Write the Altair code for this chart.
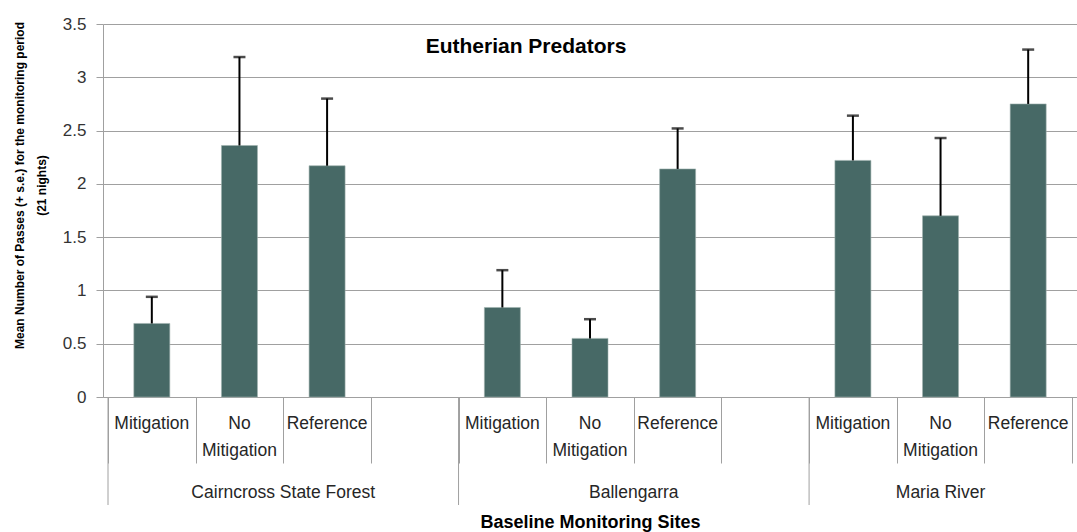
import altair as alt
import pandas as pd

# Sites and treatments along the category axis
sites = ["Cairncross State Forest", "Ballengarra", "Maria River"]
treatments = ["Mitigation", "No Mitigation", "Reference"]
treatment_labels = ["Mitigation", "No\nMitigation", "Reference"]

# Mean passes and standard errors, site by site in treatment order
means = [0.69, 2.36, 2.17, 0.84, 0.55, 2.14, 2.22, 1.70, 2.75]
std_errors = [0.25, 0.83, 0.63, 0.35, 0.18, 0.38, 0.42, 0.73, 0.51]

y_ticks = [0, 0.5, 1, 1.5, 2, 2.5, 3, 3.5]

# Each site takes four category slots (three treatments and one empty slot);
# the trailing empty slot of the last site is not shown.
SLOTS_PER_SITE = 4
n_slots = SLOTS_PER_SITE * len(sites) - 1

rows = []
for i, site in enumerate(sites):
    for j, (treat, lab) in enumerate(zip(treatments, treatment_labels)):
        k = i * len(treatments) + j
        rows.append({
            "site": site,
            "treatment": treat,
            "label": lab,
            "x": i * SLOTS_PER_SITE + j + 0.5,
            "mean": means[k],
            "upper": means[k] + std_errors[k],
        })
bars_df = pd.DataFrame(rows)

site_rows = []
for i, site in enumerate(sites):
    start = i * SLOTS_PER_SITE
    end = min(start + SLOTS_PER_SITE, n_slots)
    site_rows.append({"site": site, "x": start, "mid": (start + end) / 2})
sites_df = pd.DataFrame(site_rows)

FONT = "Liberation Sans, Arial, sans-serif"
GRAY = "#a0a0a0"
BAR = "#476966"
TEXT = "#262626"

W, H = 974, 373

x_scale = alt.Scale(domain=[0, n_slots], nice=False, zero=False)
x_axis = alt.Axis(
    values=list(range(n_slots + 1)),
    labels=False,
    grid=False,
    tickSize=66,
    tickColor=GRAY,
    domainColor=GRAY,
    title="Baseline Monitoring Sites",
    titleFont=FONT,
    titleFontSize=18,
    titleFontWeight="bold",
    titleColor="#000000",
    titleX=W / 2,
    titleY=125,
    titleAlign="center",
    titleBaseline="middle",
)

y_scale = alt.Scale(domain=[0, 3.5], nice=False)
y_axis = alt.Axis(
    values=y_ticks,
    format=".1~f",
    tickSize=7,
    tickColor=GRAY,
    domainColor=GRAY,
    gridColor=GRAY,
    labelFont=FONT,
    labelFontSize=17,
    labelColor="#333333",
    labelPadding=10,
    title=["Mean Number of Passes (+ s.e.) for the monitoring period", "(21 nights)"],
    titleFont=FONT,
    titleFontSize=12,
    titleFontWeight="bold",
    titleColor="#000000",
    titleAngle=270,
    titleX=-84,
    titleY=161,
    titleAlign="center",
    titleBaseline="middle",
    titleLineHeight=22,
)


def X(field):
    return alt.X(field, type="quantitative", scale=x_scale, axis=x_axis)


def Y(field):
    return alt.Y(field, type="quantitative", scale=y_scale, axis=y_axis)


base = alt.Chart(bars_df)

bars = base.mark_bar(width=36, color=BAR, stroke="#9fb1af", strokeWidth=0.6).encode(
    x=X("x"), y=Y("mean")
)

err = base.mark_rule(color="#000000", strokeWidth=2).encode(
    x=X("x"), y=Y("mean"), y2="upper:Q"
)

caps = base.mark_tick(orient="horizontal", size=12, thickness=2.5, color="#000000").encode(
    x=X("x"), y=Y("upper")
)

cat_labels = base.mark_text(
    font=FONT, fontSize=17.5, color=TEXT, lineBreak="\n",
    lineHeight=27, baseline="alphabetic", align="center",
).encode(x=X("x"), y=alt.value(405), text="label:N")

site_rules = alt.Chart(sites_df).mark_rule(color=GRAY, strokeWidth=1).encode(
    x=X("x"), y=alt.value(H), y2=alt.value(481)
)

site_labels = alt.Chart(sites_df).mark_text(
    font=FONT, fontSize=17.5, color=TEXT, baseline="alphabetic", align="center"
).encode(x=alt.X("mid:Q", scale=x_scale, axis=x_axis), y=alt.value(474), text="site:N")

title = alt.Chart(pd.DataFrame({"t": ["Eutherian Predators"]})).mark_text(
    font=FONT, fontSize=21, fontWeight="bold", color="#000000",
    align="center", baseline="middle",
).encode(x=alt.value(423), y=alt.value(23), text="t:N")

chart = (
    alt.layer(bars, err, caps, cat_labels, site_rules, site_labels, title)
    .properties(
        width=W,
        height=H,
        autosize=alt.AutoSizeParams(type="none"),
        padding={"left": 103, "top": 24, "right": 0, "bottom": 135},
        background="#ffffff",
    )
    .configure_view(stroke=None)
)

chart.save("out.html", embed_options={"renderer": "svg", "actions": False})
